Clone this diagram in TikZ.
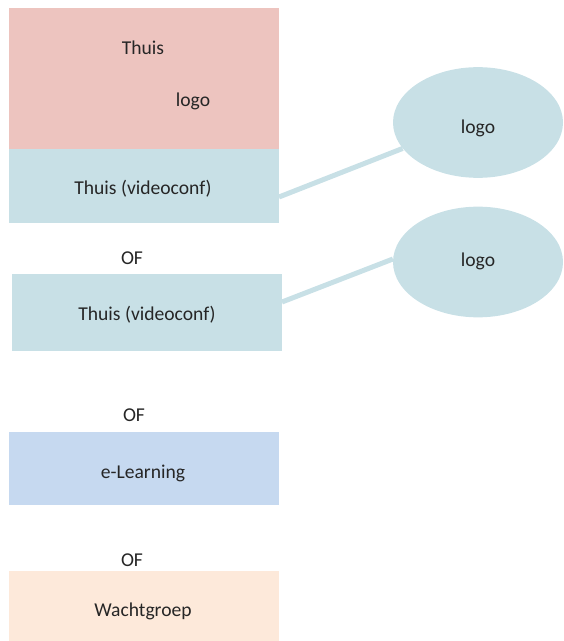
\documentclass[tikz,border=0pt]{standalone}
\usepackage{fontspec}
\setmainfont{Carlito}
\usetikzlibrary{shapes.geometric}
\definecolor{rosebox}{HTML}{EDC4BF}
\definecolor{tealbox}{HTML}{C8E0E6}
\definecolor{bluebox}{HTML}{C6D9F0}
\definecolor{peachbox}{HTML}{FDE9DA}
\definecolor{inktext}{HTML}{262626}
\begin{document}
\begin{tikzpicture}[x=0.75pt,y=-0.75pt,
  every node/.style={text=inktext,font=\fontsize{14.7}{17.6}\selectfont},
  block/.style={rectangle,draw=none,inner sep=0pt,minimum width=202.5pt},
  oval/.style={ellipse,fill=tealbox,inner sep=0pt,minimum width=127.5pt,minimum height=83pt},
  link/.style={draw=tealbox,line width=3.75pt},
  label/.style={inner sep=0pt}]
\useasboundingbox (0,0) rectangle (563,641);

% home block with logo area and video-conference strip
\node[block,fill=rosebox,minimum height=105.75pt] (home) at (144,78.5) {};
\node[block,fill=tealbox,minimum height=55.5pt] (video1) at (144,186) {};
\node[label] (video1t) at (143,189) {Thuis (videoconf)};
\node[label] (homet) at (143,47.5) {Thuis};
\node[label] (homelogo) at (193,101.5) {logo};

% alternatives
\node[label] (of1) at (132,258.5) {OF};
\node[block,fill=tealbox,minimum height=57.75pt] (video2) at (147,312.5) {};
\node[label] (video2t) at (147,315) {Thuis (videoconf)};

\node[label] (of2) at (134,415.5) {OF};
\node[block,fill=bluebox,minimum height=54.75pt] (elearn) at (144,468.5) {};
\node[label] (elearnt) at (143,473) {e-Learning};

\node[label] (of3) at (132,560.5) {OF};
\node[block,fill=peachbox,minimum height=52.5pt] (wacht) at (144,606) {};
\node[label] (wachtt) at (143,611) {Wachtgroep};

% logos on the right
\node[oval] (logo1) at (478,122.5) {};
\node[label] (logo1t) at (478,128.5) {logo};
\node[oval] (logo2) at (478,262) {};
\node[label] (logo2t) at (478,261) {logo};

% connectors
\coordinate (v1) at (279,197);
\coordinate (v2) at (282,302);
\draw[link] (v1) -- (logo1.199);
\draw[link] (v2) -- (logo2.178);
\end{tikzpicture}
\end{document}
